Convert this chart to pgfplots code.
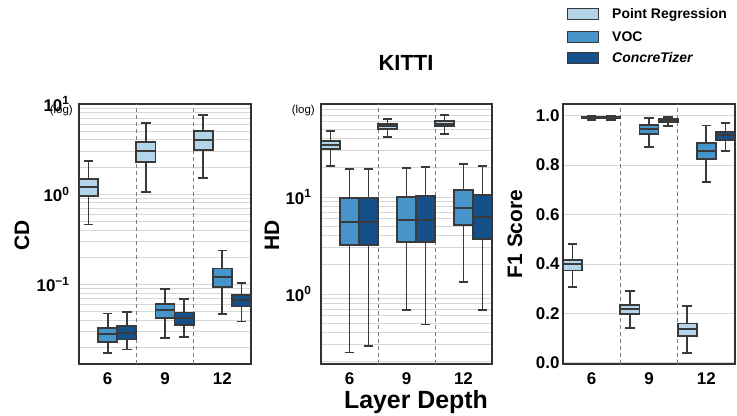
\documentclass[border=0pt]{standalone}
\usepackage{fontspec}
\setmainfont{Liberation Sans}
\usepackage{pgfplots}
\pgfplotsset{compat=1.18}
\definecolor{PRc}{RGB}{180,212,234}
\definecolor{VOCc}{RGB}{70,148,201}
\definecolor{CTc}{RGB}{22,80,138}
\definecolor{edgec}{RGB}{58,58,58}
\definecolor{spine}{RGB}{50,50,50}
\definecolor{gridc}{RGB}{215,215,215}
\definecolor{sepc}{RGB}{125,125,125}
% fill colour, position, lower whisker, lower quartile, median, upper quartile, upper whisker
\newcommand\mbx[7]{%
  \pgfmathsetmacro\xa{#2-0.16667}%
  \pgfmathsetmacro\xb{#2+0.16667}%
  \pgfmathsetmacro\ca{#2-0.08333}%
  \pgfmathsetmacro\cb{#2+0.08333}%
  \edef\tmp{%
    \noexpand\addplot[wsk] coordinates {(#2,#3) (#2,#4)};
    \noexpand\addplot[wsk] coordinates {(#2,#6) (#2,#7)};
    \noexpand\addplot[wsk] coordinates {(\ca,#3) (\cb,#3)};
    \noexpand\addplot[wsk] coordinates {(\ca,#7) (\cb,#7)};
    \noexpand\addplot[wsk, fill=#1] coordinates {(\xa,#4) (\xb,#4) (\xb,#6) (\xa,#6)} -- cycle;
    \noexpand\addplot[wsk] coordinates {(\xa,#5) (\xb,#5)};
  }\tmp}
\pgfplotsset{
  mybox/.style={scale only axis, width=172bp, height=260bp, anchor=south west,
    xmin=-0.5, xmax=2.5, xtick={0,1,2}, xticklabels={6,9,12},
    major tick length=0pt, minor tick length=0pt,
    axis line style={draw=spine, line width=1.3bp},
    grid style={draw=gridc, line width=0.8bp},
    ymajorgrids,
    tick label style={font=\fontsize{17}{19}\selectfont\bfseries},
    xticklabel style={yshift=-5bp}},
  wsk/.style={draw=edgec, line width=1.8bp, solid, mark=none, line join=miter},
}
\newcommand\seps{\draw[sepc, line width=1bp, dash pattern=on 4bp off 3bp] (rel axis cs:0.33333,0) -- (rel axis cs:0.33333,1);
  \draw[sepc, line width=1bp, dash pattern=on 4bp off 3bp] (rel axis cs:0.66667,0) -- (rel axis cs:0.66667,1);}
\begin{document}
\begin{tikzpicture}
\useasboundingbox (0,0) rectangle (737bp,416bp);
% CD
\begin{axis}[mybox, at={(79bp,52bp)}, ymode=log, ymin=0.013, ymax=10,
  ytick={0.1,1,10}, yticklabels={10\textsuperscript{−1},10\textsuperscript{0},10\textsuperscript{1}},
  yticklabel style={xshift=-6bp},
  minor ytick={0.02,0.03,0.04,0.05,0.06,0.07,0.08,0.09,0.2,0.3,0.4,0.5,0.6,0.7,0.8,0.9,2,3,4,5,6,7,8,9},
  yminorgrids]
\seps
\mbx{PRc}{-0.3333}{0.46}{0.95}{1.20}{1.48}{2.33}
\mbx{PRc}{0.6667}{1.05}{2.27}{3.0}{3.81}{6.2}
\mbx{PRc}{1.6667}{1.52}{3.11}{3.98}{5.0}{7.5}
\mbx{VOCc}{0}{0.0173}{0.0229}{0.0278}{0.0327}{0.0472}
\mbx{VOCc}{1}{0.0255}{0.0422}{0.0519}{0.0604}{0.088}
\mbx{VOCc}{2}{0.0464}{0.0927}{0.119}{0.149}{0.237}
\mbx{CTc}{0.3333}{0.0188}{0.0243}{0.029}{0.0344}{0.0496}
\mbx{CTc}{1.3333}{0.0258}{0.035}{0.0422}{0.0484}{0.068}
\mbx{CTc}{2.3333}{0.0385}{0.0565}{0.0664}{0.0755}{0.1035}
\end{axis}
% HD
\begin{axis}[mybox, at={(321bp,52bp)}, width=171bp, ymode=log, ymin=0.19, ymax=91,
  ytick={1,10}, yticklabels={10\textsuperscript{0},10\textsuperscript{1}},
  yticklabel style={xshift=-6bp},
  minor ytick={0.2,0.3,0.4,0.5,0.6,0.7,0.8,0.9,2,3,4,5,6,7,8,9,20,30,40,50,60,70,80,90},
  yminorgrids]
\seps
\mbx{PRc}{-0.3333}{20.9}{31.0}{34.1}{37.8}{47.9}
\mbx{PRc}{0.6667}{41.2}{50.2}{54}{57}{63.7}
\mbx{PRc}{1.6667}{44.3}{53.5}{57}{60.8}{69.5}
\mbx{VOCc}{0}{0.25}{3.22}{5.49}{9.77}{19.4}
\mbx{VOCc}{1}{0.684}{3.41}{5.75}{10.08}{20.1}
\mbx{VOCc}{2}{1.32}{5.1}{7.64}{11.9}{21.9}
\mbx{CTc}{0.3333}{0.29}{3.22}{5.49}{9.77}{19.4}
\mbx{CTc}{1.3333}{0.486}{3.44}{5.84}{10.2}{20.4}
\mbx{CTc}{2.3333}{0.684}{3.66}{6.22}{10.5}{21.0}
\end{axis}
% F1
\begin{axis}[mybox, at={(563bp,52bp)}, ymin=-0.005, ymax=1.047,
  ytick={0,0.2,0.4,0.6,0.8,1.0}, yticklabels={0.0,0.2,0.4,0.6,0.8,1.0}]
\seps
\mbx{PRc}{-0.3333}{0.308}{0.373}{0.401}{0.416}{0.479}
\mbx{PRc}{0.6667}{0.14}{0.196}{0.217}{0.235}{0.29}
\mbx{PRc}{1.6667}{0.04}{0.109}{0.138}{0.159}{0.23}
\mbx{VOCc}{0}{0.981}{0.988}{0.992}{0.996}{1.0}
\mbx{VOCc}{1}{0.873}{0.926}{0.945}{0.962}{0.991}
\mbx{VOCc}{2}{0.733}{0.823}{0.858}{0.888}{0.96}
\mbx{CTc}{0.3333}{0.981}{0.988}{0.992}{0.996}{1.0}
\mbx{CTc}{1.3333}{0.958}{0.975}{0.981}{0.988}{0.995}
\mbx{CTc}{2.3333}{0.857}{0.902}{0.920}{0.935}{0.970}
\end{axis}
% labels
\node[rotate=90, font=\fontsize{21}{24}\selectfont\bfseries] at (22bp,181bp) {CD};
\node[rotate=90, font=\fontsize{21}{24}\selectfont\bfseries] at (272bp,181bp) {HD};
\node[rotate=90, font=\fontsize{21}{24}\selectfont\bfseries] at (515bp,182bp) {F1 Score};
\node[anchor=east, inner sep=0pt, font=\fontsize{11.5}{13}\selectfont] at (73bp,305bp) {(log)};
\node[anchor=east, inner sep=0pt, font=\fontsize{11.5}{13}\selectfont] at (315bp,305bp) {(log)};
\node[font=\fontsize{22}{26}\selectfont\bfseries] at (406bp,353bp) {KITTI};
\node[anchor=base, inner sep=0pt, font=\fontsize{25}{28}\selectfont\bfseries] at (416bp,8bp) {Layer Depth};
% legend
\draw[edgec, line width=0.8bp, fill=PRc] (567bp,397bp) rectangle (598bp,408bp);
\draw[edgec, line width=0.8bp, fill=VOCc] (567bp,374bp) rectangle (598bp,385bp);
\draw[edgec, line width=0.8bp, fill=CTc] (567bp,353bp) rectangle (598bp,364bp);
\node[anchor=base west, inner sep=0pt, font=\fontsize{14}{16}\selectfont\bfseries] at (612bp,397.5bp) {Point Regression};
\node[anchor=base west, inner sep=0pt, font=\fontsize{14}{16}\selectfont\bfseries] at (612bp,374.5bp) {VOC};
\node[anchor=base west, inner sep=0pt, font=\fontsize{14}{16}\selectfont\bfseries\itshape] at (612bp,353.5bp) {ConcreTizer};
\end{tikzpicture}
\end{document}
